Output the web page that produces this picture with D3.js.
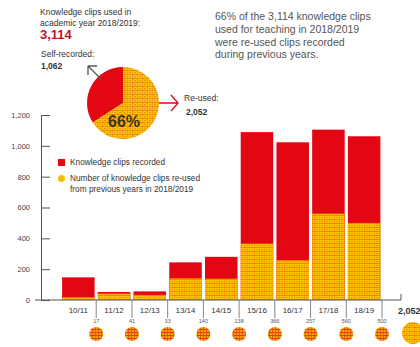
<!DOCTYPE html>
<html lang="en">
  <head>
    <meta charset="UTF-8" />
    <title>Knowledge clips</title>
    <style>
      body { margin: 0; background: #fff; }
      text { font-family: "Liberation Sans", Arial, sans-serif; fill: #333; }
    </style>
  </head>
  <body>
    <svg id="svg" width="420" height="347"></svg>
    <script src="https://d3js.org/d3.v7.min.js"></script>
    <script>
      // academic years and clip counts
      const years = ["10/11", "11/12", "12/13", "13/14", "14/15", "15/16", "16/17", "17/18", "18/19"];
      const recorded = [147, 52, 56, 244, 280, 1089, 1023, 1105, 1062];
      const reused = [17, 41, 33, 140, 138, 366, 257, 560, 500];
      const yTicks = [0, 200, 400, 600, 800, 1000, 1200];
      const pieValues = [1062, 2052]; // self-recorded, re-used
      const totalClips = 3114;
      const totalReused = 2052;

      const red = "#e30613";
      const svg = d3.select("#svg");

      // dotted yellow fill used for re-used clips
      const defs = svg.append("defs");
      const pat = defs.append("pattern").attr("id", "dots")
        .attr("width", 5).attr("height", 4).attr("patternUnits", "userSpaceOnUse");
      pat.append("rect").attr("width", 5).attr("height", 4).attr("fill", "#fac800");
      pat.append("rect").attr("y", 3).attr("width", 5).attr("height", 1).attr("fill", "#ef8a06");
      pat.append("rect").attr("x", 4).attr("width", 1).attr("height", 3).attr("fill", "#f3a000");
      pat.append("rect").attr("x", 1).attr("y", 1).attr("width", 2).attr("height", 1).attr("fill", "#f09000");

      const pat2 = defs.append("pattern").attr("id", "balls")
        .attr("width", 3).attr("height", 3).attr("patternUnits", "userSpaceOnUse");
      pat2.append("rect").attr("width", 3).attr("height", 3).attr("fill", "#f5a300");
      pat2.append("rect").attr("y", 2).attr("width", 3).attr("height", 1).attr("fill", "#e2401a");
      pat2.append("rect").attr("x", 2).attr("width", 1).attr("height", 2).attr("fill", "#ea5e14");

      const x = d3.scaleBand().domain(years).range([60.5, 382])
        .paddingInner(0.09).paddingOuter(0.045);
      const y = d3.scaleLinear().domain([0, 1200]).range([300, 115]);
      const sepX = (c) => x(c) + x.bandwidth() + (x.step() * x.paddingInner()) / 2;

      // bars: recorded (red) with re-used part (dotted yellow)
      svg.append("g").selectAll("rect").data(years).enter().append("rect")
        .attr("x", (c) => x(c)).attr("width", x.bandwidth())
        .attr("y", (c, i) => y(recorded[i]))
        .attr("height", (c, i) => y(0) - y(recorded[i]))
        .attr("fill", red);
      svg.append("g").selectAll("rect").data(years).enter().append("rect")
        .attr("x", (c) => x(c)).attr("width", x.bandwidth())
        .attr("y", (c, i) => y(reused[i]))
        .attr("height", (c, i) => y(0) - y(reused[i]))
        .attr("fill", "url(#dots)");

      // y axis
      const yAxis = svg.append("g").attr("transform", "translate(41,0)")
        .call(d3.axisLeft(y).tickValues(yTicks).tickFormat(d3.format(","))
          .tickSize(-9).tickSizeOuter(0).tickPadding(11));
      yAxis.selectAll("line,path").attr("stroke", "#555");
      yAxis.selectAll("text").style("font-size", "7.5px").style("fill", "#444")
        .style("font-family", "Liberation Sans, Arial, sans-serif");

      // x axis line with end tick
      svg.append("path").attr("d", "M35,300H401V294").attr("fill", "none").attr("stroke", "#555");

      // separators, year labels, re-used counts and balls
      const sep = svg.append("g");
      sep.selectAll("line").data(years).enter().append("line")
        .attr("x1", sepX).attr("x2", sepX).attr("y1", 300).attr("y2", 318)
        .attr("stroke", "#666").attr("stroke-width", 0.8);
      sep.selectAll(".yr").data(years).enter().append("text").attr("class", "yr")
        .attr("x", (c) => x(c) + x.bandwidth() / 2).attr("y", 313)
        .attr("text-anchor", "middle").style("font-size", "8px").text((c) => c);
      sep.selectAll(".n").data(years).enter().append("text").attr("class", "n")
        .attr("x", sepX).attr("y", 323).attr("text-anchor", "middle")
        .style("font-size", "5.5px").style("fill", "#555").text((c, i) => reused[i]);
      sep.selectAll("circle").data(years).enter().append("circle")
        .attr("cx", sepX).attr("cy", 334).attr("r", 7)
        .attr("fill", "url(#balls)");

      svg.append("circle").attr("cx", 413).attr("cy", 333).attr("r", 11).attr("fill", "url(#dots)");
      svg.append("text").attr("x", 398).attr("y", 314).style("font-size", "9px")
        .style("font-weight", "bold").text(d3.format(",")(totalReused));

      // legend
      svg.append("rect").attr("x", 58).attr("y", 159).attr("width", 7).attr("height", 7).attr("fill", red);
      svg.append("circle").attr("cx", 61.5).attr("cy", 178.5).attr("r", 3.5).attr("fill", "#f5c000");
      const leg = [["Knowledge clips recorded", 165], ["Number of knowledge clips re-used", 181],
        ["from previous years in 2018/2019", 192]];
      svg.append("g").selectAll("text").data(leg).enter().append("text")
        .attr("x", 70).attr("y", (d) => d[1]).style("font-size", "8.3px").text((d) => d[0]);

      // pie
      const pie = d3.pie().sort(null).startAngle(0).endAngle(-2 * Math.PI);
      const arc = d3.arc().innerRadius(0).outerRadius(36);
      svg.append("g").attr("transform", "translate(123,103)")
        .selectAll("path").data(pie(pieValues)).enter().append("path")
        .attr("d", arc).attr("fill", (d, i) => (i === 0 ? red : "url(#dots)"));
      svg.append("text").attr("x", 124).attr("y", 127).attr("text-anchor", "middle")
        .style("font-size", "16px").style("font-weight", "bold").style("fill", "#3a3320")
        .text(Math.round((pieValues[1] / totalClips) * 100) + "%");

      // pie arrows
      svg.append("path").attr("d", "M102,80L88,66M88,66H97M88,66V75")
        .attr("fill", "none").attr("stroke", "#555").attr("stroke-width", 1.3);
      svg.append("path").attr("d", "M159,103H178M171,95L178,103L171,111")
        .attr("fill", "none").attr("stroke", red).attr("stroke-width", 1.3);

      // header texts
      svg.append("text").attr("x", 40).attr("y", 15).style("font-size", "8.5px").text("Knowledge clips used in");
      svg.append("text").attr("x", 40).attr("y", 26).style("font-size", "8.5px").text("academic year 2018/2019:");
      svg.append("text").attr("x", 40).attr("y", 39).style("font-size", "13px").style("font-weight", "bold")
        .style("fill", "#c8102e").text(d3.format(",")(totalClips));
      svg.append("text").attr("x", 41).attr("y", 57).style("font-size", "8.5px").text("Self-recorded:");
      svg.append("text").attr("x", 41).attr("y", 69).style("font-size", "8.5px").style("font-weight", "bold")
        .text(d3.format(",")(pieValues[0]));
      svg.append("text").attr("x", 184).attr("y", 101).style("font-size", "8.5px").text("Re-used:");
      svg.append("text").attr("x", 186).attr("y", 115).style("font-size", "8.5px").style("font-weight", "bold")
        .text(d3.format(",")(pieValues[1]));

      const para = ["66% of the 3,114 knowledge clips", "used for teaching in 2018/2019",
        "were re-used clips recorded", "during previous years."];
      svg.append("g").selectAll("text").data(para).enter().append("text")
        .attr("x", 215).attr("y", (d, i) => 20 + i * 12.8)
        .style("font-size", "10.5px").style("fill", "#555").text((d) => d);
    </script>
  </body>
</html>
